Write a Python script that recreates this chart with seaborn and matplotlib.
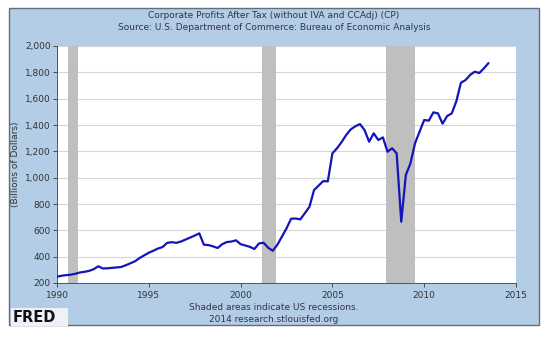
import numpy as np
import pandas as pd
import matplotlib
matplotlib.use("Agg")
import matplotlib.pyplot as plt
from matplotlib.patches import Rectangle
import seaborn as sns

# Quarterly values, 1990Q1 .. 2013Q3 (billions of dollars)
start_year = 1990
profits = [
    248, 255, 260, 263,      # 1990
    270, 280, 285, 292,      # 1991
    305, 327, 310, 312,      # 1992
    315, 318, 322, 335,      # 1993
    350, 365, 390, 410,      # 1994
    430, 445, 462, 473,      # 1995
    505, 510, 505, 515,      # 1996
    530, 545, 560, 577,      # 1997
    491, 488, 478, 466,      # 1998
    495, 511, 515, 524,      # 1999
    495, 485, 475, 458,      # 2000
    500, 506, 468, 445,      # 2001
    490, 552, 615, 688,      # 2002
    690, 683, 730, 779,      # 2003
    906, 940, 974, 972,      # 2004
    1185, 1223, 1270, 1324,  # 2005
    1367, 1390, 1407, 1362,  # 2006
    1273, 1337, 1286, 1306,  # 2007
    1197, 1223, 1185, 665,   # 2008
    1020, 1109, 1261, 1350,  # 2009
    1438, 1433, 1496, 1488,  # 2010
    1410, 1468, 1488, 1580,  # 2011
    1721, 1741, 1780, 1805,  # 2012
    1795, 1830, 1870,        # 2013
]
dates = [start_year + i / 4 for i in range(len(profits))]

recession_starts = [1990.58, 2001.17, 2007.92]
recession_ends = [1991.17, 2001.92, 2009.50]

y_ticks = [200, 400, 600, 800, 1000, 1200, 1400, 1600, 1800, 2000]
x_ticks = [1990, 1995, 2000, 2005, 2010, 2015]

title_lines = ["Corporate Profits After Tax (without IVA and CCAdj) (CP)",
               "Source: U.S. Department of Commerce: Bureau of Economic Analysis"]
y_label = "(Billions of Dollars)"
footer_lines = ["Shaded areas indicate US recessions.", "2014 research.stlouisfed.org"]

df = pd.DataFrame({"date": dates, "value": profits})

sns.set_style("white")
plt.rcParams["font.family"] = ["DejaVu Sans"]

W, H = 550, 337
fig = plt.figure(figsize=(W / 100, H / 100), dpi=100)
fig.patch.set_facecolor("white")

panel_color = "#b4cde6"
fig.patches.append(Rectangle((9 / W, 1 - 325 / H), 530 / W, 317 / H,
                             transform=fig.transFigure, facecolor=panel_color,
                             edgecolor="#5f6f7f", linewidth=1.0, zorder=-10))

ax = fig.add_axes([57 / W, 1 - 283 / H, 459 / W, 237 / H])
ax.set_zorder(1)
ax.set_facecolor("white")

for s, e in zip(recession_starts, recession_ends):
    ax.axvspan(s, e, color="#bfbfbf", lw=0, zorder=1)

for t in y_ticks:
    ax.axhline(t, color="#d6d6d6", lw=0.8, zorder=0.5)

sns.lineplot(data=df, x="date", y="value", ax=ax, color="#1414b8", lw=1.6, zorder=3)

ax.set_xlim(1990, 2015)
ax.set_ylim(200, 2000)
ax.set_yticks(y_ticks)
ax.set_yticklabels([f"{v:,}" for v in y_ticks])
ax.set_xticks(x_ticks)
ax.set_xticklabels([str(v) for v in x_ticks])
ax.tick_params(axis="both", labelsize=6.5, colors="#333333", length=3, width=0.6,
               direction="out", pad=1.5)
ax.tick_params(axis="y", left=True)
ax.tick_params(axis="x", bottom=True, pad=2.5)
for side in ["top", "right"]:
    ax.spines[side].set_visible(False)
for side in ["left", "bottom"]:
    ax.spines[side].set_color("#555555")
    ax.spines[side].set_linewidth(0.7)
ax.set_xlabel("")
ax.set_ylabel(y_label, fontsize=6.5, color="#333333")
ax.yaxis.set_label_coords((20 - 57) / 459, 0.5)

fs = 6.5
fig.text(274 / W, 1 - 16 / H, title_lines[0], ha="center", va="center",
         fontsize=fs, color="#333344")
fig.text(274 / W, 1 - 27 / H, title_lines[1], ha="center", va="center",
         fontsize=fs, color="#333344")
fig.text(274 / W, 1 - 308 / H, footer_lines[0], ha="center", va="center",
         fontsize=fs, color="#333344")
fig.text(274 / W, 1 - 319 / H, footer_lines[1], ha="center", va="center",
         fontsize=fs, color="#333344")

fig.patches.append(Rectangle((11 / W, 1 - 326 / H), 57 / W, 18 / H,
                             transform=fig.transFigure, facecolor="#eef2f6",
                             edgecolor="none", zorder=1))
fig.text(13 / W, 1 - 317 / H, "FRED", ha="left", va="center", fontsize=10.5,
         fontweight="bold", color="#111111")

fig.savefig("out.png", dpi=100)
